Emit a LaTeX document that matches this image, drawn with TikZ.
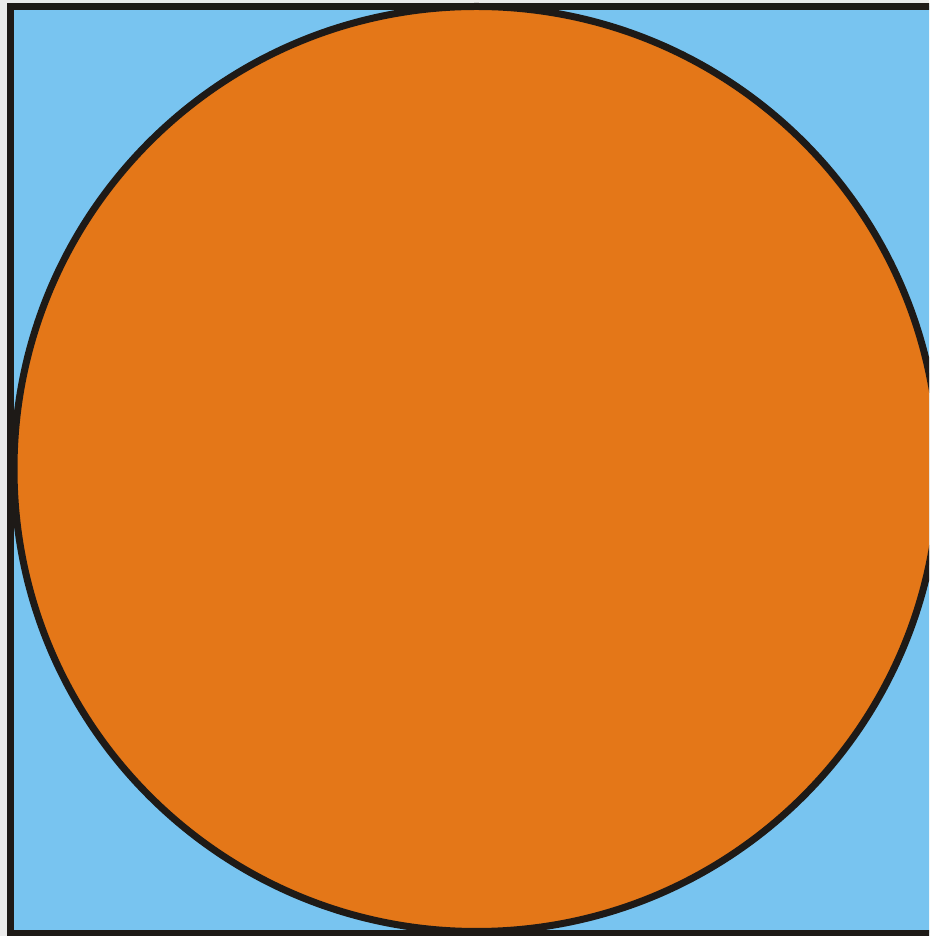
\documentclass[tikz,border=0pt]{standalone}
\definecolor{bgray}{HTML}{EBEBEB}
\definecolor{skyb}{HTML}{78C4F0}
\definecolor{orng}{HTML}{E47718}
\definecolor{inkb}{HTML}{1E1A17}
\tikzset{frame/.style={draw=inkb,line width=7pt,fill=skyb},
         disc/.style={draw=inkb,line width=7pt,fill=orng}}
\begin{document}
\begin{tikzpicture}[x=1pt,y=1pt]
\useasboundingbox (0,0) rectangle (929,936);
\fill[bgray] (0,0) rectangle (929,936);
\clip (0,0) rectangle (929,936);
\draw[frame] (10.5,929.5) rectangle (945,2.5);
\draw[disc] (476.5,467) circle (462.5);
\end{tikzpicture}
\end{document}
